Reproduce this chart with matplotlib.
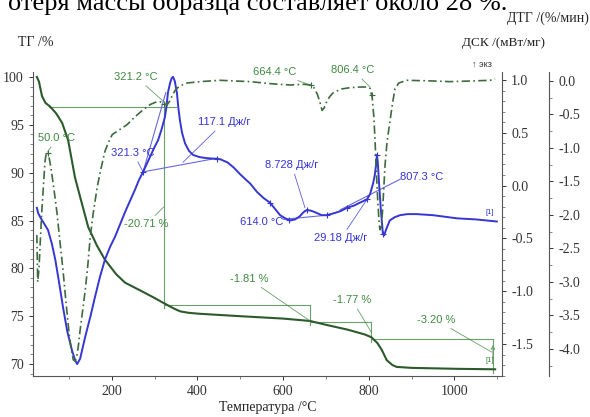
import numpy as np
import matplotlib
matplotlib.use("Agg")
import matplotlib.pyplot as plt
from matplotlib.ticker import MultipleLocator

plt.rcParams['font.family'] = 'serif'
plt.rcParams['font.serif'] = ['Liberation Serif', 'DejaVu Serif']
SANS = ['Liberation Sans Narrow', 'Liberation Sans', 'DejaVu Sans']

# ТГ, %
temp_tg = [25, 30, 37, 45, 56, 70, 84, 98, 114, 130, 145, 165, 184, 210, 231, 266,
           300, 320, 345, 360, 380, 406, 500, 600, 663, 700, 750, 790, 806, 820,
           830, 842, 855, 865, 900, 1006, 1095]
tg = [100.0, 99.5, 98.0, 97.3, 96.9, 96.2, 95.2, 93.4, 89.5, 86.8, 84.3, 82.4, 80.9,
      79.4, 78.5, 77.7, 76.9, 76.4, 75.8, 75.5, 75.35, 75.25, 75.0, 74.75, 74.5,
      74.1, 73.6, 73.1, 72.8, 72.2, 71.5, 70.4, 69.9, 69.7, 69.6, 69.5, 69.45]

# ДСК, мВт/мг
temp_dsc = [25, 28, 33, 42, 51, 60, 68, 77, 86, 96, 107, 114, 119, 126, 138, 150, 161,
            172, 184, 196, 208, 220, 231, 243, 254, 263, 273, 281, 289, 298, 308, 316,
            324, 328, 331, 336, 340, 343, 347, 352, 355, 359, 364, 371, 380, 390, 405,
            422, 440, 453, 470, 485, 499, 512, 523, 539, 555, 569, 581, 593, 605, 616,
            628, 639, 648, 656, 667, 679, 690, 702, 720, 735, 749, 765, 780, 796, 803,
            810, 814, 817, 819, 821, 824, 828, 833, 836, 840, 845, 849, 860, 873, 890,
            912, 950, 1006, 1050, 1099]
dsc = [-0.21, -0.26, -0.30, -0.36, -0.42, -0.55, -0.70, -0.92, -1.15, -1.38, -1.56,
       -1.65, -1.69, -1.64, -1.43, -1.24, -1.05, -0.87, -0.70, -0.58, -0.48, -0.36,
       -0.25, -0.14, -0.04, 0.05, 0.13, 0.20, 0.27, 0.35, 0.43, 0.53, 0.65, 0.76, 0.88,
       0.97, 1.02, 1.03, 0.99, 0.88, 0.75, 0.62, 0.50, 0.40, 0.33, 0.29, 0.27, 0.26,
       0.255, 0.25, 0.22, 0.17, 0.11, 0.06, 0.02, -0.06, -0.12, -0.16, -0.22, -0.28,
       -0.31, -0.33, -0.32, -0.29, -0.25, -0.23, -0.24, -0.26, -0.28, -0.28, -0.26,
       -0.24, -0.21, -0.19, -0.16, -0.13, -0.08, 0.02, 0.10, 0.20, 0.29, 0.22, 0.02,
       -0.22, -0.46, -0.47, -0.42, -0.37, -0.33, -0.30, -0.28, -0.27, -0.27, -0.28,
       -0.31, -0.32, -0.34]

# ДТГ, %/мин
temp_dtg = [25, 27, 30, 33, 36, 40, 44, 47, 49, 53, 58, 65, 72, 79, 86, 93, 100, 105,
            110, 114, 118, 122, 126, 132, 138, 144, 149, 156, 166, 175, 184, 192, 201,
            215, 236, 255, 273, 290, 305, 313, 321, 329, 335, 341, 347, 352, 360, 376,
            406, 453, 523, 570, 616, 650, 663, 672, 680, 686, 691, 696, 700, 708, 716,
            735, 756, 780, 796, 803, 808, 812, 815, 818, 821, 824, 826, 829, 832, 835,
            838, 842, 845, 849, 855, 861, 870, 889, 950, 989, 1040, 1083, 1095]
dtg = [-2.3, -3.0, -2.8, -2.4, -2.0, -1.6, -1.2, -1.08, -1.06, -1.12, -1.30, -1.62,
       -1.97, -2.40, -2.82, -3.30, -3.75, -4.00, -4.16, -4.18, -4.12, -3.95, -3.72,
       -3.42, -3.12, -2.75, -2.37, -2.00, -1.58, -1.30, -1.05, -0.92, -0.80, -0.74,
       -0.65, -0.53, -0.43, -0.35, -0.31, -0.31, -0.34, -0.36, -0.30, -0.22, -0.15,
       -0.11, -0.07, -0.03, -0.01, 0.01, -0.01, -0.04, -0.06, -0.05, -0.06, -0.10,
       -0.20, -0.32, -0.44, -0.40, -0.33, -0.24, -0.18, -0.12, -0.10, -0.09, -0.09,
       -0.11, -0.25, -0.55, -0.95, -1.40, -1.80, -2.10, -2.22, -2.18, -1.95, -1.60,
       -1.25, -0.95, -0.80, -0.62, -0.35, -0.12, -0.03, 0.01, 0.00, -0.01, 0.00, 0.01,
       0.03]

# ступени ТГ
step_temp = [321, 663, 806, 1090]
step_level = [96.9, 76.2, 74.4, 72.6, 69.4]
step_label = ["-20.71 %", "-1.81 %", "-1.77 %", "-3.20 %"]

dtg_peaks = [50.0, 321.2, 664.4, 806.4]
dsc_marks = [273, 446, 569, 614, 656, 702, 749, 796, 819, 833]

c_tg = '#2c5a2c'
c_dtg = '#3d6b3d'
c_dsc = '#3636d2'
c_gtxt = '#3f8a3f'
c_btxt = '#3434d8'
c_step = '#6aa06a'
c_base = '#6868e0'

fig = plt.figure(figsize=(5.9, 4.17), dpi=100)
ax = fig.add_axes([33 / 590, 1 - 376 / 417, (502 - 33) / 590, (376 - 72) / 417])
ax_dsc = ax.twinx()
ax_dtg = ax.twinx()
ax_dtg.spines['right'].set_position(('outward', 47 * 0.72))

ax.set_xlim(16, 1111)
ax.set_ylim(68.75, 100.52)
ax_dsc.set_ylim(-1.803, 1.076)
ax_dtg.set_ylim(-4.403, 0.134)

for a in (ax, ax_dsc, ax_dtg):
    a.spines['top'].set_visible(False)
    a.patch.set_visible(False)
ax.spines['right'].set_visible(False)
for a in (ax_dsc, ax_dtg):
    a.spines['left'].set_visible(False)
    a.spines['bottom'].set_visible(False)
for a in (ax, ax_dsc, ax_dtg):
    for s in a.spines.values():
        s.set_color('#555555')
        s.set_linewidth(0.8)
    a.tick_params(which='major', length=3, width=0.7, labelsize=10, colors='#333333')
    a.tick_params(which='minor', length=2, width=0.5, colors='#555555')

ax.xaxis.set_major_locator(MultipleLocator(200))
ax.xaxis.set_minor_locator(MultipleLocator(100))
ax.yaxis.set_major_locator(MultipleLocator(5))
ax.yaxis.set_minor_locator(MultipleLocator(1))
ax_dsc.yaxis.set_major_locator(MultipleLocator(0.5))
ax_dsc.yaxis.set_minor_locator(MultipleLocator(0.1))
ax_dtg.yaxis.set_major_locator(MultipleLocator(0.5))
ax_dtg.yaxis.set_minor_locator(MultipleLocator(0.25))
ax_dsc.yaxis.set_major_formatter(lambda v, p: f'{v:.1f}')
ax_dtg.yaxis.set_major_formatter(lambda v, p: f'{v:.1f}')

# кривые
ax.plot(temp_tg, tg, color=c_tg, lw=1.5, zorder=3)
ax_dsc.plot(temp_dsc, dsc, color=c_dsc, lw=1.4, zorder=3)
ax_dtg.plot(temp_dtg, dtg, color=c_dtg, lw=1.2, ls=(0, (5, 2, 1, 2)), zorder=3)

# ступени потери массы
lk = dict(color=c_step, lw=0.8, zorder=2)
ax.plot([54, 350], [step_level[0]] * 2, **lk)
for i, t in enumerate(step_temp):
    ax.plot([t, t], [step_level[i], step_level[i + 1] - 0.3], **lk)
    if i < 3:
        ax.plot([t, step_temp[i + 1]], [step_level[i + 1]] * 2, **lk)
ax.annotate('', xy=(step_temp[3], step_level[3] - 0.3), xytext=(step_temp[3], step_level[4] + 0.9),
            arrowprops=dict(arrowstyle='->', color=c_step, lw=0.8, mutation_scale=6))

# базовые линии ДСК
bk = dict(color=c_base, lw=0.8, zorder=2)
ax_dsc.plot([273, 446], [0.13, 0.26], **bk)
ax_dsc.plot([273, 326], [0.13, 0.88], **bk)
ax_dsc.plot([600, 702], [-0.32, -0.28], **bk)
ax_dsc.plot([733, 873], [-0.23, 0.06], **bk)

# маркеры
ax_dtg.plot(dtg_peaks, np.interp(dtg_peaks, temp_dtg, dtg), '+', color=c_dtg, ms=5, mew=0.8)
ax_dsc.plot(dsc_marks, np.interp(dsc_marks, temp_dsc, dsc), '+', color=c_dsc, ms=5, mew=0.8)


def note(a, text, xytext, color, xy=None, size=8):
    ap = None
    if xy is not None:
        ap = dict(arrowstyle='-', color=color, lw=0.6, shrinkA=1, shrinkB=0, alpha=0.8)
    else:
        xy = xytext
    a.annotate(text, xy=xy, xytext=xytext, color=color, fontsize=size, family=SANS,
               ha='center', va='center', arrowprops=ap, annotation_clip=False, zorder=5)


note(ax_dtg, '50.0 °C', (72, -0.85), c_gtxt, (50, -1.06))
note(ax_dtg, '321.2 °C', (257, 0.06), c_gtxt, (330, -0.36))
note(ax_dtg, '664.4 °C', (581, 0.13), c_gtxt, (663, -0.06))
note(ax_dtg, '806.4 °C', (763, 0.16), c_gtxt, (803, -0.09))
note(ax_dsc, '321.3 °C', (250, 0.31), c_btxt, (273, 0.13))
note(ax_dsc, '117.1 Дж/г', (462, 0.60), c_btxt, (366, 0.22))
note(ax_dsc, '614.0 °C', (551, -0.34), c_btxt)
note(ax_dsc, '8.728 Дж/г', (620, 0.195), c_btxt, (651, -0.21))
note(ax_dsc, '29.18 Дж/г', (735, -0.50), c_btxt, (796, -0.13))
note(ax_dsc, '807.3 °C', (924, 0.08), c_btxt)
note(ax_dsc, '[1]', (1083, -0.25), c_btxt, size=5.5)
note(ax, step_label[0], (280, 84.6), c_gtxt, (321, 86.4))
note(ax, step_label[1], (520, 78.9), c_gtxt, (663, 74.5))
note(ax, step_label[2], (761, 76.7), c_gtxt, (806, 73.3))
note(ax, step_label[3], (957, 74.6), c_gtxt, (1087, 71.25))
note(ax, '[1]', (1083, 70.4), c_gtxt, size=5.5)

# подписи осей
fig.text(18 / 590, 1 - 43 / 417, 'ТГ /%', fontsize=10, va='center', ha='left', color='#222222')
fig.text(589 / 590, 1 - 18 / 417, 'ДТГ /(%/мин)', fontsize=10, va='center', ha='right', color='#222222')
fig.text(462 / 590, 1 - 43 / 417, 'ДСК /(мВт/мг)', fontsize=9.5, va='center', ha='left', color='#222222')
fig.text(268 / 590, 1 - 407 / 417, 'Температура /°C', fontsize=10, va='center', ha='center', color='#222222')
fig.text(472 / 590, 1 - 64 / 417, '↑ экз', fontsize=6.5, family=SANS, va='center', ha='left', color='#333333')
# обрезанная строка текста над рисунком
fig.text(8 / 590, 1 - 10 / 417, 'отеря массы образца составляет около 28 %.', fontsize=19,
         va='baseline', ha='left', color='black')

fig.savefig('out.png', dpi=100)
